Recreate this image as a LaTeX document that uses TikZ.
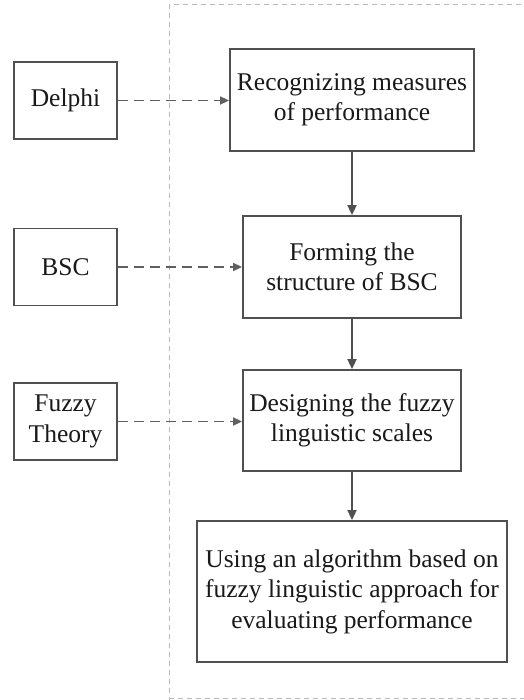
\documentclass[tikz,border=0pt]{standalone}
\usepackage{fontspec}
\setmainfont{Liberation Serif}
\usetikzlibrary{arrows.meta}
\definecolor{boxline}{HTML}{505050}
\definecolor{dashline}{HTML}{606060}
\definecolor{frameline}{HTML}{B8B8B8}
\tikzset{
  box/.style={draw=boxline, line width=1.8pt, fill=white, align=center, inner sep=0pt,
    font=\fontsize{25.5}{30.5}\selectfont, text=black!90},
  leftbox/.style={box, minimum width=103pt, minimum height=77pt},
  flow/.style={draw=boxline, line width=1.8pt, -{Triangle[length=10pt,width=9pt]}},
  feed/.style={draw=dashline, line width=1.5pt, dash pattern=on 10pt off 6pt, -{Triangle[length=9pt,width=8pt]}},
  frame/.style={draw=frameline, line width=1pt, dash pattern=on 5pt off 4pt}
}
\begin{document}
\begin{tikzpicture}[x=1pt,y=-1pt]
\useasboundingbox (0,0) rectangle (523,700);
\draw[frame] (530,5) -- (169,5) -- (169,705);
\draw[frame] (169,698) -- (530,698);

\node[box, minimum width=244pt, minimum height=102pt] (rec) at (352,100) {Recognizing measures\\of performance};
\node[box, minimum width=218pt, minimum height=102pt] (form) at (352,267) {Forming the\\structure of BSC};
\node[box, minimum width=218pt, minimum height=101pt] (des) at (352,420.5) {Designing the fuzzy\\linguistic scales};
\node[box, minimum width=310pt, minimum height=141pt] (use) at (352,591.5) {Using an algorithm based on\\fuzzy linguistic approach for\\evaluating performance};

\node[leftbox] (delphi) at (65.5,100.5) {Delphi};
\node[leftbox] (bsc) at (65.5,267) {BSC};
\node[leftbox] (fuzzy) at (65.5,421.5) {Fuzzy\\Theory};

\draw[flow] (rec) -- (form);
\draw[flow] (form) -- (des);
\draw[flow] (des) -- (use);

\draw[feed] (delphi.east) -- (delphi.east -| rec.west);
\draw[feed] (bsc) -- (form);
\draw[feed] (fuzzy.east) -- (fuzzy.east -| des.west);
\end{tikzpicture}
\end{document}
